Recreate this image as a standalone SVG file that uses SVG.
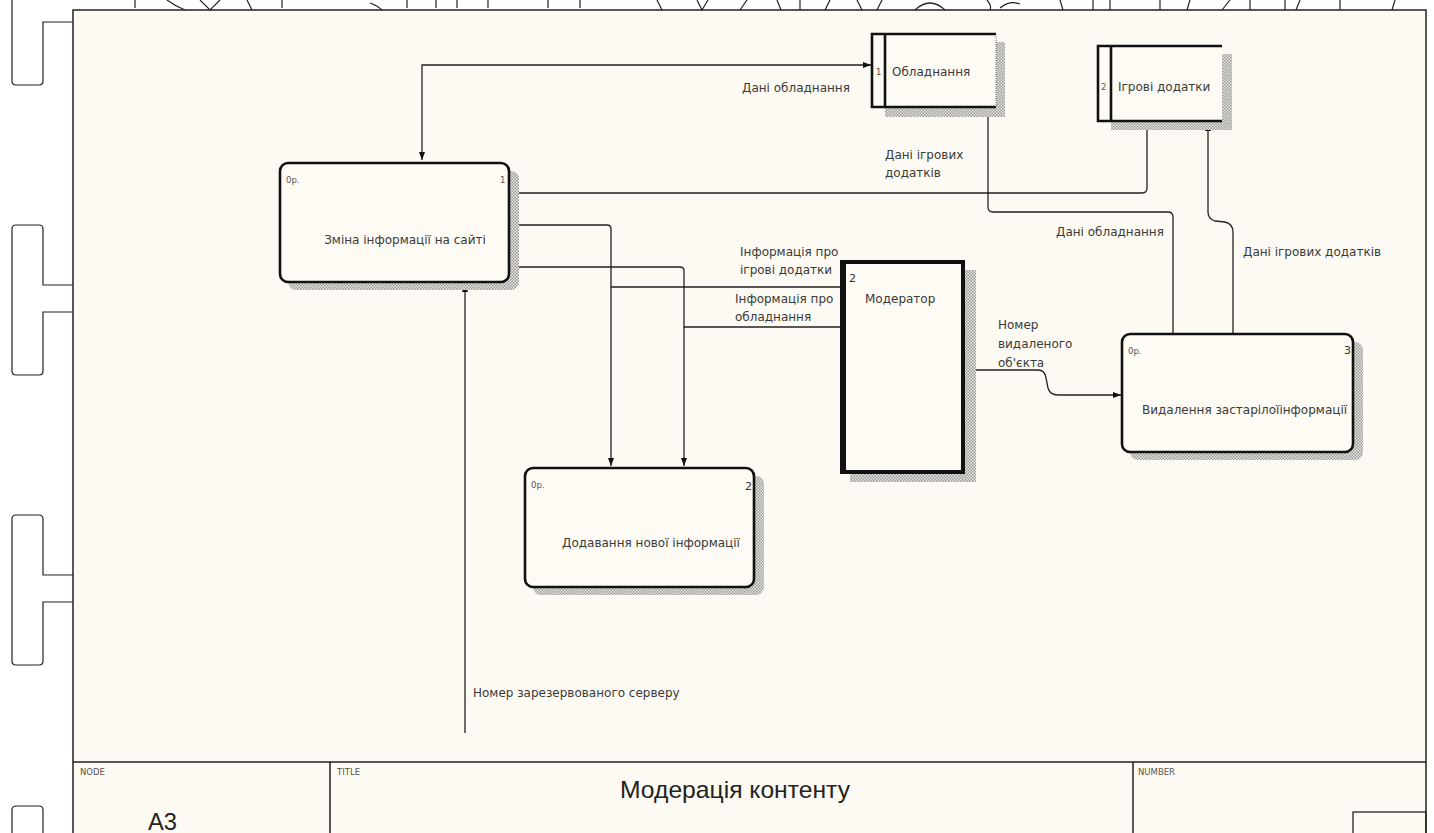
<svg xmlns="http://www.w3.org/2000/svg" width="1434" height="833" viewBox="0 0 1434 833">
<style>
.ln{fill:none;stroke:#222;stroke-width:1.3}
.box{fill:#fdfbf4;stroke:#111;stroke-width:2.6}
.lbl{font-family:"DejaVu Sans",Verdana,sans-serif;font-size:12px;fill:#3a3a3a}
.tiny{font-family:"DejaVu Sans",Verdana,sans-serif;font-size:8.5px;fill:#555}
.num{font-family:"DejaVu Sans",Verdana,sans-serif;font-size:11px;fill:#333}
.frag{fill:none;stroke:#222;stroke-width:1.2}
</style>
<defs>
<pattern id="hatch" width="3" height="3" patternUnits="userSpaceOnUse">
<rect width="3" height="3" fill="#e8e6e0"/>
<rect width="1.5" height="1.5" fill="#9a9a9a"/>
<rect x="1.5" y="1.5" width="1.5" height="1.5" fill="#9a9a9a"/>
</pattern>
<marker id="arr" viewBox="0 0 8 6" refX="8" refY="3" markerWidth="8" markerHeight="6" markerUnits="userSpaceOnUse" orient="auto-start-reverse">
<path d="M0,0 L8,3 L0,6 z" fill="#111"/>
</marker>
<clipPath id="clip3"><rect x="1122" y="334" width="236" height="120"/></clipPath>
</defs>
<rect width="1434" height="833" fill="#ffffff"/>
<!-- page frame -->
<rect x="73" y="10" width="1353" height="840" fill="#fcfaf2" stroke="#222" stroke-width="1.5"/>
<line x1="73" y1="762" x2="1426" y2="762" stroke="#222" stroke-width="1.5"/>
<line x1="330" y1="762" x2="330" y2="833" stroke="#222" stroke-width="1.5"/>
<line x1="1133" y1="762" x2="1133" y2="833" stroke="#222" stroke-width="1.5"/>
<rect x="1353" y="812" width="73" height="30" fill="none" stroke="#222" stroke-width="1.3"/>
<!-- binder marks -->
<g id="binders" class="frag">
<path d="M12,-10 V81 Q12,85 16,85 H39 Q43,85 43,81 V22 H73"/>
<path d="M73,285 H43 V229 Q43,225 39,225 H16 Q12,225 12,229 V371 Q12,375 16,375 H39 Q43,375 43,371 V312 H73"/>
<path d="M73,575 H43 V519 Q43,515 39,515 H16 Q12,515 12,519 V661 Q12,665 16,665 H39 Q43,665 43,661 V602 H73"/>
<path d="M12,840 V810 Q12,806 16,806 H39 Q43,806 43,810 V840"/>
</g>
<!-- fragments at top edge -->
<g id="top-fragments" class="frag">
<path d="M135,0 V8 M282,0 V8 M407,0 V8 M436,0 V8 M457,0 V8 M488,0 V8 M548,0 V8 M580,0 V8"/>
<path d="M167,0 Q175,6 185,10 M200,0 L210,10 L220,0 M247,0 L252,10 M370,3 Q378,6 382,10"/>
<path d="M657,0 L662,10 M697,0 L702,10 L708,0 M740,10 L747,0 M777,0 L781,10 M800,0 V10 M825,10 L830,0 M857,0 L862,10 M877,10 L882,0"/>
<path d="M915,10 Q930,-4 945,10 M987,0 Q992,6 990,10 M1000,8 Q1010,0 1020,4 M1060,0 L1063,10 M1093,0 V10 M1110,0 V10 M1160,0 V10 M1190,0 L1187,10 M1230,0 L1222,10 M1250,0 V10 M1285,0 V10 M1300,0 L1296,10 M1340,0 V10 M1395,0 L1392,10"/>
</g>
<!-- connectors -->
<g id="connectors">
<path class="ln" d="M422,160 V65 H871" marker-start="url(#arr)" marker-end="url(#arr)"/>
<path class="ln" d="M1147,121 V188 Q1147,193 1142,193 H510" marker-end="url(#arr)"/>
<path class="ln" d="M1173,334 V217 Q1173,212 1168,212 H993 Q988,212 988,207 V109" marker-end="url(#arr)"/>
<path class="ln" d="M1233,334 V232 Q1233,224 1225,222 L1215,221 Q1208,219 1208,212 V123" marker-end="url(#arr)"/>
<path class="ln" d="M842,287 H611 V229 Q611,225 607,225 H510" marker-end="url(#arr)"/>
<path class="ln" d="M611,287 V466" marker-end="url(#arr)"/>
<path class="ln" d="M842,327 H684 V271 Q684,267 680,267 H510" marker-end="url(#arr)"/>
<path class="ln" d="M684,327 V466" marker-end="url(#arr)"/>
<path class="ln" d="M966,370 H1038 Q1045,370 1046,378 L1048,388 Q1050,395 1058,395 H1121" marker-end="url(#arr)"/>
<path class="ln" d="M465,733 V284" marker-end="url(#arr)"/>
<text class="lbl" x="742" y="92">Дані обладнання</text>
<text class="lbl" x="885" y="159">Дані ігрових</text>
<text class="lbl" x="885" y="177">додатків</text>
<text class="lbl" x="1056" y="236">Дані обладнання</text>
<text class="lbl" x="1243" y="256">Дані ігрових додатків</text>
<text class="lbl" x="740" y="256">Інформація про</text>
<text class="lbl" x="740" y="274">ігрові додатки</text>
<text class="lbl" x="735" y="303">Інформація про</text>
<text class="lbl" x="735" y="321">обладнання</text>
<text class="lbl" x="998" y="329">Номер</text>
<text class="lbl" x="998" y="348">видаленого</text>
<text class="lbl" x="998" y="367">об'єкта</text>
<text class="lbl" x="473" y="697">Номер зарезервованого серверу</text>
</g>
<!-- node 1 -->
<g id="node-zmina">
<rect x="288" y="171" width="231" height="119" rx="8" fill="url(#hatch)"/>
<rect class="box" x="280" y="163" width="229" height="119" rx="8"/>
<text class="tiny" x="286" y="183">0р.</text>
<text class="tiny" x="500" y="183">1</text>
<text class="lbl" x="405" y="244" text-anchor="middle">Зміна інформації на сайті</text>
</g>
<!-- node 2 -->
<g id="node-dodavannia">
<rect x="533" y="476" width="231" height="119" rx="8" fill="url(#hatch)"/>
<rect class="box" x="525" y="468" width="229" height="119" rx="8"/>
<text class="tiny" x="531" y="488">0р.</text>
<text class="num" x="745" y="490">2</text>
<text class="lbl" x="651" y="547" text-anchor="middle">Додавання нової інформації</text>
</g>
<!-- node 3 -->
<g id="node-vydalennia">
<rect x="1130" y="342" width="233" height="118" rx="8" fill="url(#hatch)"/>
<rect class="box" x="1122" y="334" width="231" height="118" rx="8"/>
<text class="tiny" x="1128" y="354">0р.</text>
<text class="num" x="1344" y="354">3</text>
<text class="lbl" x="1142" y="414" clip-path="url(#clip3)">Видалення застарілоїінформації</text>
</g>
<!-- moderator -->
<g id="node-moderator">
<rect x="850" y="270" width="126" height="212" fill="url(#hatch)"/>
<rect x="842" y="262" width="121" height="210" fill="#fdfbf4" stroke="#111" stroke-width="4"/>
<line x1="845" y1="262" x2="845" y2="472" stroke="#111" stroke-width="2"/>
<text class="num" x="849" y="282">2</text>
<text class="lbl" x="865" y="303">Модератор</text>
</g>
<!-- store 1 -->
<g id="store-obladnannia">
<rect x="885" y="42" width="120" height="75" fill="url(#hatch)"/>
<rect x="872" y="34" width="124" height="73" fill="#fdfbf4"/>
<path d="M996,34 H872 V107 H996" fill="none" stroke="#111" stroke-width="2.6"/>
<line x1="885" y1="34" x2="885" y2="107" stroke="#111" stroke-width="2.6"/>
<line x1="996" y1="34" x2="996" y2="107" stroke="#777" stroke-width="1" stroke-dasharray="1,1"/>
<text class="tiny" x="876" y="75">1</text>
<text class="lbl" x="892" y="76">Обладнання</text>
</g>
<!-- store 2 -->
<g id="store-ihrovi">
<rect x="1111" y="54" width="121" height="76" fill="url(#hatch)"/>
<rect x="1098" y="46" width="124" height="75" fill="#fdfbf4"/>
<path d="M1222,46 H1098 V121 H1222" fill="none" stroke="#111" stroke-width="2.6"/>
<line x1="1111" y1="46" x2="1111" y2="121" stroke="#111" stroke-width="2.6"/>
<text class="tiny" x="1101" y="90">2</text>
<text class="lbl" x="1118" y="91">Ігрові додатки</text>
</g>
<!-- title block texts -->
<g id="title-block">
<text class="tiny" x="80" y="775">NODE</text>
<text class="tiny" x="337" y="775">TITLE</text>
<text class="tiny" x="1138" y="775">NUMBER</text>
<text x="735" y="798" text-anchor="middle" font-family="'Liberation Sans Narrow','Liberation Sans',Arial,sans-serif" font-size="24" fill="#222" textLength="230" lengthAdjust="spacingAndGlyphs">Модерація контенту</text>
<text x="148" y="830" font-family="'Liberation Sans Narrow','Liberation Sans',Arial,sans-serif" font-size="24" fill="#222" textLength="29" lengthAdjust="spacingAndGlyphs">A3</text>
</g>
</svg>
